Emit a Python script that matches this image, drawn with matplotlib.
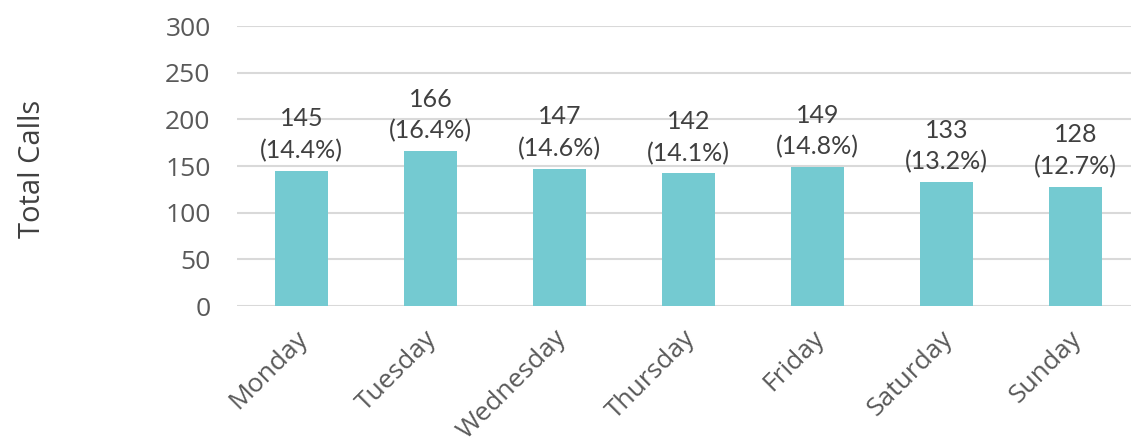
import matplotlib
matplotlib.use("Agg")
import matplotlib.pyplot as plt
from matplotlib.transforms import ScaledTranslation

days = ["Monday", "Tuesday", "Wednesday", "Thursday", "Friday", "Saturday", "Sunday"]
calls = [145, 166, 147, 142, 149, 133, 128]
shares = ["14.4%", "16.4%", "14.6%", "14.1%", "14.8%", "13.2%", "12.7%"]
yticks = [0, 50, 100, 150, 200, 250, 300]

W, H = 1131, 442
fig = plt.figure(figsize=(W / 100, H / 100), dpi=100)
left, right = 237 / W, 1.0
bottom, top = (H - 306) / H, (H - 26) / H
ax = fig.add_axes([left, bottom, right - left, top - bottom])

x = list(range(len(days)))
ax.bar(x, calls, width=0.41, color="#74CAD1", zorder=3)

ax.set_ylim(0, 300)
ax.set_xlim(-0.5, 6.43)
ax.set_yticks(yticks)
ax.set_yticklabels([str(v) for v in yticks], fontfamily="Open Sans", fontsize=19, color="#595959")
ax.set_xticks(x)
ax.set_xticklabels(days, fontfamily="Open Sans", fontsize=19, color="#595959",
                   rotation=45, ha="right", rotation_mode="anchor")
ax.tick_params(axis="both", length=0)
ax.tick_params(axis="y", pad=19)
ax.tick_params(axis="x", pad=12)
shift = ScaledTranslation(-6 / 100, -3 / 100, fig.dpi_scale_trans)
for lab in ax.get_xticklabels():
    lab.set_transform(lab.get_transform() + shift)

ax.grid(axis="y", color="#D9D9D9", linewidth=1.5, zorder=0)
for s in ax.spines.values():
    s.set_visible(False)

for xi, v, p in zip(x, calls, shares):
    ax.annotate(f"{v}\n({p})", (xi, v), xytext=(0, 6), textcoords="offset points",
                ha="center", va="bottom", fontfamily="Lato", fontsize=18,
                color="#404040", linespacing=1.45, zorder=4)

fig.text(33 / W, 1 - 169 / H, "Total Calls", rotation=90, ha="center", va="center",
         fontfamily="Open Sans", fontsize=21, color="#404040")

fig.savefig("out.png", dpi=100)
